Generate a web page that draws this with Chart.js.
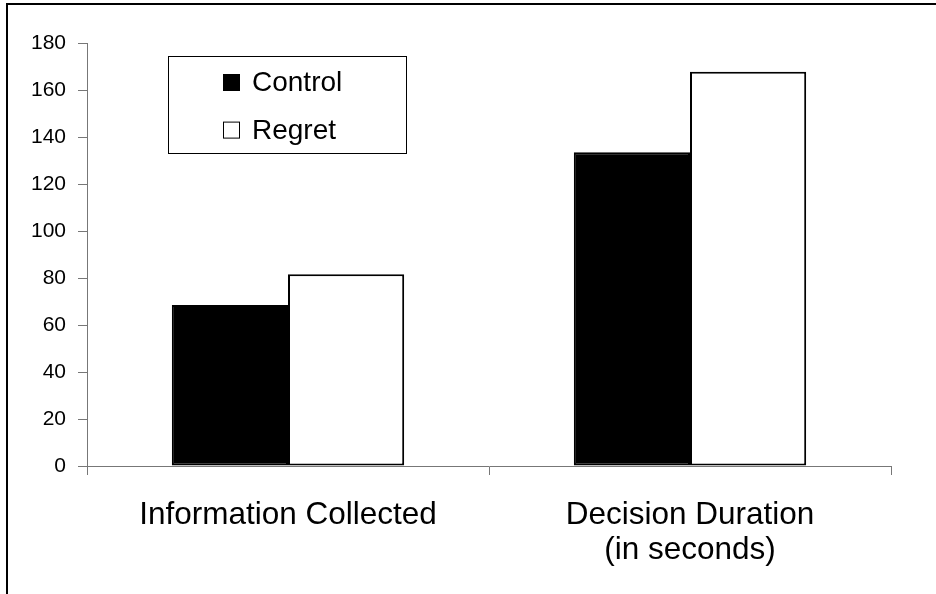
<!DOCTYPE html>
<html>
<head>
<meta charset="utf-8">
<script src="https://cdn.jsdelivr.net/npm/chart.js@4.4.0/dist/chart.umd.min.js"></script>
<style>
    html, body { margin: 0; padding: 0; background: #fff; }
    #wrap { width: 936px; height: 594px; }
</style>
</head>
<body>
<div id="wrap"><canvas id="chart_barras"></canvas></div>
<script>
// Dados do gráfico
const categorias = ['Information Collected', ['Decision Duration', '(in seconds)']];
const series = ['Control', 'Regret'];
const valoresControl = [68.5, 133.5];
const valoresRegret = [81.6, 167.8];
const eixoY = { min: 0, max: 180, passo: 20 };

const fonte = "'Liberation Sans', Arial, sans-serif";
Chart.defaults.font.family = fonte;

// Moldura externa (só aparecem as bordas de cima e da esquerda)
const moldura = {
    id: 'moldura',
    beforeDraw(chart) {
        const c = chart.ctx;
        c.save();
        c.fillStyle = '#fff';
        c.fillRect(0, 0, chart.width, chart.height);
        c.strokeStyle = '#000';
        c.lineWidth = 2;
        c.strokeRect(7, 4, chart.width + 10, chart.height + 10);
        c.restore();
    }
};

// Legenda desenhada dentro de uma caixa, no canto do gráfico
const legendaCaixa = {
    id: 'legendaCaixa',
    afterDraw(chart) {
        const c = chart.ctx;
        const a = chart.chartArea;
        const x = a.left + 81, y = a.top + 13;
        c.save();
        c.strokeStyle = '#000';
        c.lineWidth = 1;
        c.strokeRect(x + 0.5, y + 0.5, 238, 97);
        c.font = '28px ' + fonte;
        c.textBaseline = 'alphabetic';
        chart.data.datasets.forEach((ds, i) => {
            const base = y + 35 + i * 47.6;
            c.fillStyle = ds.backgroundColor;
            c.fillRect(x + 55, base - 17, 17, 17);
            c.strokeRect(x + 55.5, base - 16.5, 16, 16);
            c.fillStyle = '#000';
            c.fillText(ds.label, x + 84, base);
        });
        c.restore();
    }
};

new Chart(document.getElementById('chart_barras'), {
    type: 'bar',
    data: {
        labels: categorias,
        datasets: [{
            label: series[0],
            data: valoresControl,
            backgroundColor: '#000',
            borderColor: '#000',
            borderWidth: 2,
            borderSkipped: false
        },
        {
            label: series[1],
            data: valoresRegret,
            backgroundColor: '#fff',
            borderColor: '#000',
            borderWidth: 2,
            borderSkipped: false
        }]
    },
    options: {
        responsive: true,
        maintainAspectRatio: false,
        animation: false,
        layout: {
            padding: { top: 43, right: 45, bottom: 0, left: 0 }
        },
        datasets: {
            bar: {
                categoryPercentage: 0.578,
                barPercentage: 1
            }
        },
        scales: {
            x: {
                afterFit(scale) { scale.height = 128; },
                grid: { drawOnChartArea: false, tickLength: 9, color: '#777', offset: true },
                border: { color: '#777', width: 1 },
                ticks: {
                    color: '#000',
                    padding: 23,
                    maxRotation: 0,
                    font: { size: 31.5, lineHeight: 1.1 }
                }
            },
            y: {
                min: eixoY.min,
                max: eixoY.max,
                afterFit(scale) { scale.width = 87; },
                grid: { drawOnChartArea: false, tickLength: 9, color: '#777' },
                border: { color: '#777', width: 1 },
                ticks: {
                    stepSize: eixoY.passo,
                    color: '#000',
                    padding: 12,
                    font: { size: 21 }
                }
            }
        },
        plugins: {
            legend: { display: false },
            tooltip: { enabled: false }
        }
    },
    plugins: [moldura, legendaCaixa]
});
</script>
</body>
</html>
